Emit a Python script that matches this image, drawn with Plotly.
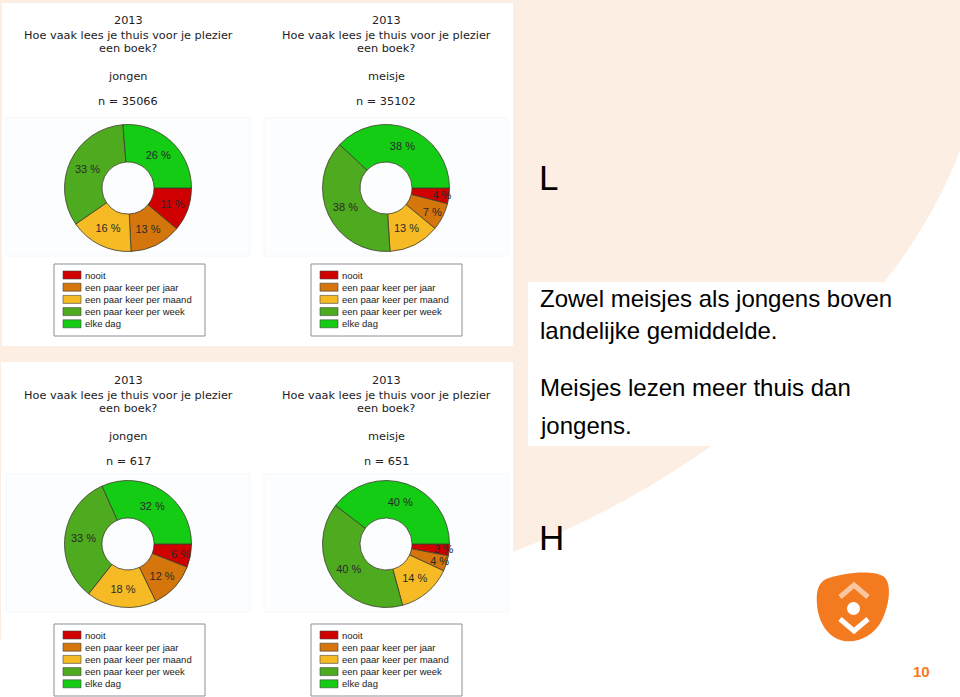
import plotly.graph_objects as go

W, H = 960, 697

categories = ["nooit", "een paar keer per jaar", "een paar keer per maand",
              "een paar keer per week", "elke dag"]
colors = ["#D00000", "#D4760C", "#F6BB24", "#4EAA1E", "#14CC14"]

year = "2013"
question_l1 = "Hoe vaak lees je thuis voor je plezier"
question_l2 = "een boek?"
genders = ["jongen", "meisje", "jongen", "meisje"]
n_values = [35066, 35102, 617, 651]

values_tl = [11, 13, 16, 33, 26]
values_tr = [4, 7, 13, 38, 38]
values_bl = [6, 12, 18, 33, 32]
values_br = [3, 4, 14, 40, 40]
all_values = [values_tl, values_tr, values_bl, values_br]

side_lines = ["Zowel meisjes als jongens boven", "landelijke gemiddelde.",
              "Meisjes lezen meer thuis dan", "jongens."]
page_number = "10"

# layout geometry (pixels)
centers_x = [128, 386, 128, 386]
pie_offs = [0, 0, 356, 356]
text_offs = [0, 0, 360, 360]
pie_cy = 188
pie_r = 63.5
legend_x = [54, 311, 54, 311]

fig = go.Figure()
fig.add_trace(go.Scatter(x=[0, W], y=[0, H], mode="markers",
                         marker=dict(opacity=0), hoverinfo="skip", showlegend=False))

shapes = []
annotations = []

PEACH = "#FDEEE3"
shapes.append(dict(type="path", layer="below", xref="x", yref="y",
                   path="M 0,0 L 960,0 L 960,150 C 905,300 730,470 513,552 L 0,640 Z",
                   fillcolor=PEACH, line=dict(width=0)))
shapes.append(dict(type="rect", layer="below", xref="x", yref="y", x0=2, x1=513, y0=3, y1=346,
                   fillcolor="white", line=dict(width=0)))
shapes.append(dict(type="rect", layer="below", xref="x", yref="y", x0=1, x1=513, y0=362, y1=697,
                   fillcolor="white", line=dict(width=0)))
shapes.append(dict(type="rect", layer="below", xref="x", yref="y", x0=528, x1=890, y0=282, y1=446,
                   fillcolor="white", line=dict(width=0)))

for i, vals in enumerate(all_values):
    cx = centers_x[i]
    oy = pie_offs[i]
    ty0 = text_offs[i]
    cy = pie_cy + oy
    shapes.append(dict(type="rect", layer="below", xref="x", yref="y",
                       x0=cx - 122, x1=cx + 122, y0=118 + oy, y1=256 + oy,
                       fillcolor="#FCFDFE", line=dict(color="#F5F7F9", width=1)))
    fig.add_trace(go.Pie(
        labels=categories, values=vals, sort=False, direction="clockwise", rotation=90,
        hole=0.41, marker=dict(colors=colors, line=dict(color="#3C3C2C", width=0.8)),
        texttemplate="%{value} %", textposition="inside", insidetextorientation="horizontal",
        textfont=dict(family="Liberation Sans, Arial", size=11, color="#2A2A2A"),
        showlegend=False, hoverinfo="label+percent",
        domain=dict(x=[(cx - pie_r) / W, (cx + pie_r) / W],
                    y=[1 - (cy + pie_r) / H, 1 - (cy - pie_r) / H]),
    ))
    tfont = dict(family="DejaVu Sans, Verdana", size=11.3, color="#222222")
    for txt, ty in [(year, 20), (question_l1, 35), (question_l2, 48),
                    (genders[i], 76), ("n = %d" % n_values[i], 101)]:
        annotations.append(dict(x=cx, y=ty + ty0, xref="x", yref="y", text=txt,
                                showarrow=False, font=tfont, xanchor="center", yanchor="middle"))
    lx = legend_x[i]
    ly = 264 + ty0
    shapes.append(dict(type="rect", layer="above", xref="x", yref="y",
                       x0=lx, x1=lx + 151, y0=ly, y1=ly + 72,
                       fillcolor="white", line=dict(color="#8C9196", width=1)))
    for k, (cat, col) in enumerate(zip(categories, colors)):
        ry = ly + 11 + k * 12.2
        shapes.append(dict(type="rect", layer="above", xref="x", yref="y",
                           x0=lx + 9, x1=lx + 27, y0=ry - 4, y1=ry + 4,
                           fillcolor=col, line=dict(color="#444444", width=0.6)))
        annotations.append(dict(x=lx + 29, y=ry, xref="x", yref="y", text=cat,
                                showarrow=False, xanchor="left", yanchor="middle",
                                font=dict(family="Liberation Sans, Arial", size=9.5, color="#222222")))

sfont = dict(family="Liberation Sans, Arial", size=24, color="#000000")
for txt, ty in zip(side_lines, [298, 330, 387, 425]):
    annotations.append(dict(x=538, y=ty, xref="x", yref="y", text=txt, showarrow=False,
                            xanchor="left", yanchor="middle", font=sfont))
for txt, ty in [("L", 177), ("H", 537)]:
    annotations.append(dict(x=537, y=ty, xref="x", yref="y", text=txt, showarrow=False,
                            xanchor="left", yanchor="middle",
                            font=dict(family="Liberation Sans, Arial", size=35, color="#000000")))

ORANGE = "#F47A20"
shapes.append(dict(type="path", layer="above", xref="x", yref="y",
                   path="M 826,579 C 845,572 872,570 883,576 C 893,583 889,606 882,620 "
                        "C 874,636 858,643 844,641 C 828,638 818,622 817,604 C 816,592 818,583 826,579 Z",
                   fillcolor=ORANGE, line=dict(width=0)))
shapes.append(dict(type="path", layer="above", xref="x", yref="y",
                   path="M 840,597 L 854,585 L 868,597",
                   line=dict(color="#F9C6A2", width=5)))
shapes.append(dict(type="circle", layer="above", xref="x", yref="y",
                   x0=847, x1=860, y0=602, y1=615, fillcolor="white", line=dict(width=0)))
shapes.append(dict(type="path", layer="above", xref="x", yref="y",
                   path="M 840,619 L 854,631 L 868,619",
                   line=dict(color="white", width=5)))
annotations.append(dict(x=921, y=671, xref="x", yref="y", text="<b>%s</b>" % page_number,
                        showarrow=False, xanchor="center", yanchor="middle",
                        font=dict(family="Liberation Sans, Arial", size=15, color=ORANGE)))

fig.update_layout(
    width=W, height=H, margin=dict(l=0, r=0, t=0, b=0),
    paper_bgcolor="white", plot_bgcolor="rgba(0,0,0,0)",
    xaxis=dict(range=[0, W], visible=False, fixedrange=True, domain=[0, 1]),
    yaxis=dict(range=[H, 0], visible=False, fixedrange=True, domain=[0, 1]),
    shapes=shapes, annotations=annotations, showlegend=False,
    uniformtext=dict(minsize=11, mode="show"),
)

fig.write_html("out.html")
